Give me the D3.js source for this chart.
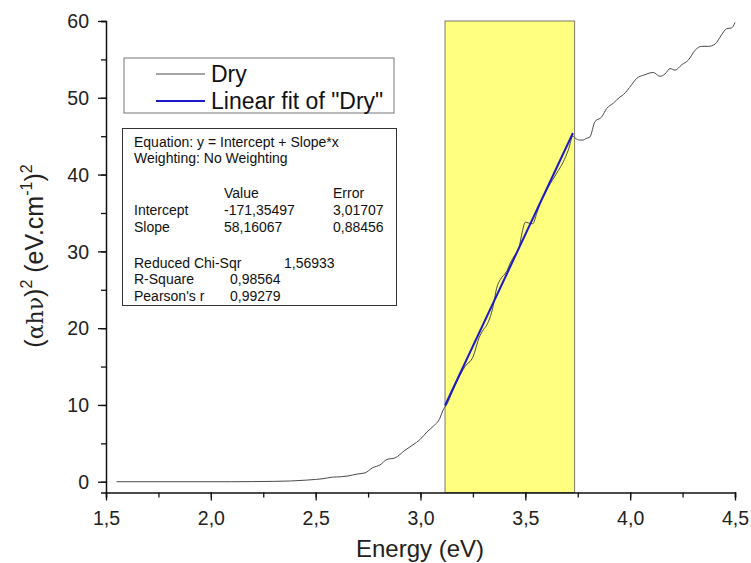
<!DOCTYPE html>
<html>
<head>
<meta charset="utf-8">
<script src="https://cdn.jsdelivr.net/npm/d3@7"></script>
<style>
  html, body { margin: 0; padding: 0; background: #fff; }
  svg { display: block; font-family: "Liberation Sans", Arial, sans-serif; }
</style>
</head>
<body>
<svg id="chart" width="751" height="563"></svg>
<script>
// Photon energy (eV) and (αhν)² for the "Dry" sample
const energy = [
  1.55, 1.70, 1.90, 2.10, 2.20, 2.30, 2.38, 2.45, 2.50, 2.535,
  2.58, 2.62, 2.654, 2.697, 2.735, 2.77, 2.807, 2.84, 2.878, 2.926,
  2.964, 2.998, 3.031, 3.06, 3.093, 3.107, 3.126, 3.15, 3.18, 3.212,
  3.251, 3.28, 3.30, 3.316, 3.346, 3.363, 3.38, 3.411, 3.43, 3.45,
  3.47, 3.485, 3.50, 3.515, 3.535, 3.555, 3.57, 3.59, 3.608, 3.63,
  3.65, 3.68, 3.705, 3.727, 3.74, 3.758, 3.775, 3.79, 3.808, 3.832,
  3.864, 3.888, 3.92, 3.951, 3.967, 4.007, 4.03, 4.07, 4.11, 4.142,
  4.166, 4.19, 4.214, 4.246, 4.277, 4.31, 4.34, 4.373, 4.405, 4.436,
  4.46, 4.484, 4.50
];
const absorb = [
  0.00, 0.00, 0.00, 0.00, 0.02, 0.05, 0.10, 0.20, 0.30, 0.40,
  0.60, 0.65, 0.75, 1.00, 1.15, 1.80, 2.20, 2.90, 3.10, 4.10,
  4.80, 5.50, 6.50, 7.20, 8.30, 9.30, 10.10, 11.60, 13.40, 15.00,
  16.30, 18.80, 19.80, 20.40, 22.80, 25.20, 26.30, 27.40, 28.60, 29.50,
  30.50, 32.50, 33.80, 33.70, 33.60, 35.00, 36.20, 37.30, 38.30, 39.30,
  40.20, 41.60, 43.20, 45.00, 44.70, 44.50, 44.50, 44.70, 44.90, 46.90,
  47.50, 48.60, 49.30, 50.10, 50.40, 51.70, 52.50, 53.00, 53.30, 52.80,
  53.10, 53.80, 53.60, 54.30, 54.90, 56.20, 56.70, 56.70, 57.00, 58.20,
  59.00, 59.10, 59.80
];

// Linear fit results
const fitIntercept = -171.35497;
const fitSlope = 58.16067;
const fitRange = [3.117, 3.727];

// Highlighted fitting window
const fitWindow = [3.117, 3.735];

// Tick labels (comma decimal separator)
const xTicks = [1.5, 2.0, 2.5, 3.0, 3.5, 4.0, 4.5];
const yTicks = [0, 10, 20, 30, 40, 50, 60];

const legendLabels = ["Dry", "Linear fit of \"Dry\""];
// rows of the fit report: [label, value, error, extra]
const statsLines = [
  ["Equation: y = Intercept + Slope*x"],
  ["Weighting: No Weighting"],
  ["", "Value", "Error"],
  ["Intercept", "-171,35497", "3,01707"],
  ["Slope", "58,16067", "0,88456"],
  ["Reduced Chi-Sqr", "", "", "1,56933"],
  ["R-Square", "0,98564"],
  ["Pearson's r", "0,99279"]
];
const statsRowY = [147, 163, 198, 215, 232, 268, 284, 301];

const svg = d3.select("#chart");
const x = d3.scaleLinear().domain([1.5, 4.5]).range([106, 735]);
const y = d3.scaleLinear().domain([-1.4, 60]).range([492.5, 21]);
const fmt = v => d3.format(".1f")(v).replace(".", ",");

// Fitting window
svg.append("rect")
  .attr("x", x(fitWindow[0]))
  .attr("y", y(60))
  .attr("width", x(fitWindow[1]) - x(fitWindow[0]))
  .attr("height", y.range()[0] - y(60))
  .attr("fill", "#ffff80")
  .attr("stroke", "#7a7a6a")
  .attr("stroke-width", 1);

// Measured curve
const pts = energy.map((e, i) => [e, absorb[i]]);
svg.append("path")
  .datum(pts)
  .attr("fill", "none")
  .attr("stroke", "#4a4a4a")
  .attr("stroke-width", 1)
  .attr("d", d3.line().x(d => x(d[0])).y(d => y(d[1])).curve(d3.curveMonotoneX));

// Linear fit
svg.append("line")
  .attr("x1", x(fitRange[0])).attr("y1", y(fitIntercept + fitSlope * fitRange[0]))
  .attr("x2", x(fitRange[1])).attr("y2", y(fitIntercept + fitSlope * fitRange[1]))
  .attr("stroke", "#1a1acc")
  .attr("stroke-width", 2);

// Axes: minor ticks first, then major ticks with labels
const xAxisG = svg.append("g").attr("transform", `translate(0,${y.range()[0]})`);
xAxisG.call(d3.axisBottom(x).tickValues(d3.range(1.5, 4.51, 0.25)).tickSize(5).tickFormat(""));
const xMajor = xAxisG.append("g").call(d3.axisBottom(x).tickValues(xTicks).tickSize(8).tickFormat(fmt));
const yAxisG = svg.append("g").attr("transform", `translate(${x.range()[0]},0)`);
yAxisG.call(d3.axisLeft(y).tickValues(d3.range(0, 61, 5)).tickSize(5).tickFormat(""));
const yMajor = yAxisG.append("g").call(d3.axisLeft(y).tickValues(yTicks).tickSize(8).tickFormat(d3.format("d")));
xMajor.select(".domain").remove();
yMajor.select(".domain").remove();

svg.selectAll(".domain").attr("stroke", "#111").attr("stroke-width", 1.5);
svg.selectAll(".tick line").attr("stroke", "#111").attr("stroke-width", 1.3);
svg.selectAll(".tick text")
  .attr("font-family", "'Liberation Sans', Arial, sans-serif")
  .attr("font-size", 19.5)
  .attr("fill", "#222");
xMajor.selectAll(".tick text").attr("y", 32).attr("dy", 0);
yMajor.selectAll(".tick text").attr("x", -17).attr("dy", "0.35em");

// Axis titles
svg.append("text")
  .attr("x", 420).attr("y", 557)
  .attr("text-anchor", "middle")
  .attr("font-size", 24)
  .attr("fill", "#222")
  .text("Energy (eV)");

const yt = svg.append("text")
  .attr("transform", "translate(43,256) rotate(-90)")
  .attr("text-anchor", "middle")
  .attr("font-size", 25)
  .attr("fill", "#222");
yt.append("tspan").text("(");
yt.append("tspan").attr("font-family", "'DejaVu Serif', serif").attr("font-size", 22).text("αhν");
yt.append("tspan").text(")");
yt.append("tspan").attr("font-size", 16).attr("dy", -11).text("2");
yt.append("tspan").attr("dy", 11).text(" (eV.cm");
yt.append("tspan").attr("font-size", 16).attr("dy", -11).text("-1");
yt.append("tspan").attr("dy", 11).text(")");
yt.append("tspan").attr("font-size", 16).attr("dy", -11).text("2");

// Legend
const legend = svg.append("g");
legend.append("rect")
  .attr("x", 124).attr("y", 58).attr("width", 270).attr("height", 55)
  .attr("fill", "#fff").attr("stroke", "#777").attr("stroke-width", 1);
const legendColors = ["#4a4a4a", "#1a1acc"];
const legendWidths = [1, 2];
legendLabels.forEach((lab, i) => {
  const ly = 74 + i * 27;
  legend.append("line")
    .attr("x1", 156).attr("x2", 205).attr("y1", ly).attr("y2", ly)
    .attr("stroke", legendColors[i]).attr("stroke-width", legendWidths[i]);
  legend.append("text")
    .attr("x", 211).attr("y", ly + 8)
    .attr("font-size", 23).attr("fill", "#111")
    .text(lab);
});

// Fit statistics box
const stats = svg.append("g");
stats.append("rect")
  .attr("x", 122.5).attr("y", 128.5).attr("width", 274).attr("height", 177)
  .attr("fill", "#fff").attr("stroke", "#333").attr("stroke-width", 1);
const colX = [134, 224, 333, 284];
statsLines.forEach((row, i) => {
  row.forEach((cell, j) => {
    if (!cell) return;
    let cx = colX[j];
    if (i >= 6 && j === 1) cx = 230;
    stats.append("text")
      .attr("x", cx).attr("y", statsRowY[i])
      .attr("font-size", 14).attr("fill", "#111")
      .text(cell);
  });
});
</script>
</body>
</html>
